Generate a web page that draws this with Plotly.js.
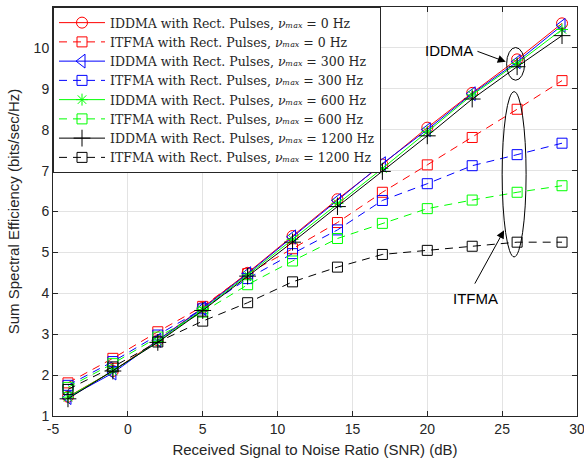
<!DOCTYPE html>
<html>
<head>
<meta charset="utf-8">
<script src="https://cdn.plot.ly/plotly-3.0.1.min.js"></script>
<style>html,body{margin:0;padding:0;background:#fff;}#chart{width:584px;height:472px;}</style>
</head>
<body>
<div id="chart"></div>
<script>
const snr = [-4, -1, 2, 5, 8, 11, 14, 17, 20, 23, 26, 29];

const iddma0    = [1.47, 2.10, 2.85, 3.65, 4.50, 5.40, 6.30, 7.15, 8.05, 8.90, 9.72, 10.60];
const itfma0    = [1.81, 2.41, 3.06, 3.68, 4.48, 5.09, 5.73, 6.47, 7.14, 7.81, 8.50, 9.20];
const iddma300  = [1.45, 2.05, 2.85, 3.63, 4.48, 5.38, 6.27, 7.17, 8.00, 8.88, 9.66, 10.55];
const itfma300  = [1.75, 2.33, 2.98, 3.62, 4.36, 4.97, 5.55, 6.27, 6.68, 7.12, 7.39, 7.67];
const iddma600  = [1.46, 2.10, 2.82, 3.60, 4.45, 5.32, 6.20, 7.05, 7.95, 8.85, 9.62, 10.45];
const itfma600  = [1.70, 2.28, 2.93, 3.54, 4.21, 4.79, 5.34, 5.71, 6.07, 6.28, 6.47, 6.63];
const iddma1200 = [1.42, 2.10, 2.80, 3.58, 4.42, 5.25, 6.12, 6.98, 7.85, 8.75, 9.54, 10.30];
const itfma1200 = [1.65, 2.20, 2.81, 3.32, 3.77, 4.28, 4.64, 4.95, 5.05, 5.15, 5.25, 5.25];

const xTickVals = [-5, 0, 5, 10, 15, 20, 25, 30];
const xTickText = ["-5", "0", "5", "10", "15", "20", "25", "30"];

const names = [
  "IDDMA with Rect. Pulses, <i>νₘₐₓ</i> = 0 Hz",
  "ITFMA with Rect. Pulses, <i>νₘₐₓ</i> = 0 Hz",
  "IDDMA with Rect. Pulses, <i>νₘₐₓ</i> = 300 Hz",
  "ITFMA with Rect. Pulses, <i>νₘₐₓ</i> = 300 Hz",
  "IDDMA with Rect. Pulses, <i>νₘₐₓ</i> = 600 Hz",
  "ITFMA with Rect. Pulses, <i>νₘₐₓ</i> = 600 Hz",
  "IDDMA with Rect. Pulses, <i>νₘₐₓ</i> = 1200 Hz",
  "ITFMA with Rect. Pulses, <i>νₘₐₓ</i> = 1200 Hz"
];

const series = [iddma0, itfma0, iddma300, itfma300, iddma600, itfma600, iddma1200, itfma1200];
const colors = ["#ff0000", "#ff0000", "#0000ff", "#0000ff", "#00ff00", "#00ff00", "#000000", "#000000"];
const symbols = ["circle-open", "square-open", "triangle-left-open", "square-open", "asterisk-open", "square-open", "cross-thin-open", "square-open"];
const sizes = [11, 10, 12, 10, 10, 10, 12, 10];
const dashes = ["solid", "8px,6px", "solid", "8px,6px", "solid", "8px,6px", "solid", "8px,6px"];

const traces = series.map((ys, i) => ({
  x: snr, y: ys, name: names[i], type: "scatter", mode: "lines+markers",
  line: {color: colors[i], width: 1, dash: dashes[i]},
  marker: {symbol: symbols[i], size: sizes[i], color: colors[i], line: {color: colors[i], width: 1}}
}));

const layout = {
  width: 584, height: 472,
  margin: {l: 53, r: 7, t: 7, b: 56},
  paper_bgcolor: "#fff", plot_bgcolor: "#fff",
  showlegend: true,
  font: {family: "Liberation Sans, Arial, sans-serif", size: 13, color: "#262626"},
  xaxis: {
    range: [-5, 30], tickmode: "array", tickvals: xTickVals, ticktext: xTickText,
    ticklabeloverflow: "allow",
    showgrid: true, gridcolor: "#e3e3e3", gridwidth: 1,
    zeroline: false, showline: true, linecolor: "#262626", linewidth: 1, mirror: "ticks",
    ticks: "inside", ticklen: 5, tickcolor: "#262626",
    tickfont: {size: 14, color: "#262626"},
    title: {text: "Received Signal to Noise Ratio (SNR) (dB)", font: {size: 15, color: "#262626"}, standoff: 8}
  },
  yaxis: {
    range: [1, 11], dtick: 1,
    showgrid: true, gridcolor: "#e3e3e3", gridwidth: 1,
    zeroline: false, showline: true, linecolor: "#262626", linewidth: 1, mirror: "ticks",
    ticks: "inside", ticklen: 5, tickcolor: "#262626",
    tickfont: {size: 14, color: "#262626"},
    title: {text: "Sum Spectral Efficiency (bits/sec/Hz)", font: {size: 15, color: "#262626"}, standoff: 10}
  },
  legend: {
    x: 0.0, y: 1.0, xanchor: "left", yanchor: "top",
    xref: "paper", yref: "paper",
    bgcolor: "#fff", bordercolor: "#262626", borderwidth: 1,
    font: {family: "DejaVu Serif, Liberation Serif, serif", size: 12.5, color: "#262626"},
    tracegroupgap: 0, itemwidth: 46
  },
  shapes: [
    {type: "circle", xref: "x", yref: "y", x0: 25.3, x1: 26.5, y0: 9.21, y1: 10.01, line: {color: "#000", width: 1}},
    {type: "circle", xref: "x", yref: "y", x0: 25.0, x1: 26.6, y0: 4.89, y1: 8.93, line: {color: "#000", width: 1}}
  ],
  annotations: [
    {x: 25.24, y: 9.66, ax: 23.25, ay: 9.93, axref: "x", ayref: "y", xref: "x", yref: "y",
     text: "", showarrow: true, arrowhead: 2, arrowsize: 1.6, arrowwidth: 1, arrowcolor: "#000"},
    {x: 21.45, y: 9.93, xref: "x", yref: "y", text: "IDDMA", showarrow: false,
     font: {size: 15, color: "#000"}},
    {x: 25.13, y: 5.54, ax: 23.12, ay: 4.2, axref: "x", ayref: "y", xref: "x", yref: "y",
     text: "", showarrow: true, arrowhead: 2, arrowsize: 1.6, arrowwidth: 1, arrowcolor: "#000"},
    {x: 23.2, y: 3.88, xref: "x", yref: "y", text: "ITFMA", showarrow: false,
     font: {size: 15, color: "#000"}}
  ]
};

Plotly.newPlot("chart", traces, layout, {displayModeBar: false, staticPlot: true});
</script>
</body>
</html>
